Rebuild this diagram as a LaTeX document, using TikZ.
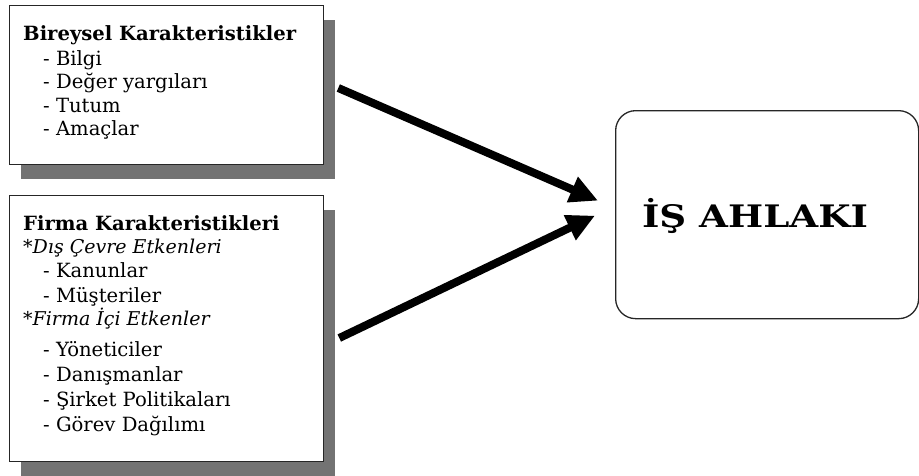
\documentclass[tikz,border=0pt]{standalone}
\usepackage{fontspec}
\setmainfont{DejaVu Serif}
\usetikzlibrary{arrows.meta,calc,shadows}
\begin{document}
\begin{tikzpicture}[x=1pt,y=-1pt,
  card/.style={draw=black!85,line width=1.3pt,fill=white,anchor=north west,inner sep=0pt,
    drop shadow={shadow xshift=11pt,shadow yshift=-14pt,fill=black!55,opacity=1}},
  goalbox/.style={draw=black!85,line width=1.3pt,rounded corners=20pt,anchor=north west,inner sep=0pt},
  head/.style={anchor=base west,inner sep=0pt,font=\fontsize{19.6}{20}\selectfont\bfseries},
  item/.style={anchor=base west,inner sep=0pt,font=\fontsize{19.6}{20}\selectfont},
  sub/.style={anchor=base west,inner sep=0pt,font=\fontsize{19}{20}\selectfont\itshape},
  flow/.style={line width=8pt,-{Triangle[length=28pt,width=26pt]}}]
\useasboundingbox (0,0) rectangle (919,475);

% left boxes with shadows
\node[card,minimum width=314pt,minimum height=159pt] (ind) at (9,5) {};
\node[card,minimum width=314pt,minimum height=266pt] (firm) at (9,195) {};

% goal box
\node[goalbox,minimum width=303pt,minimum height=208pt] (goal) at (615,110) {};
\node[font=\fontsize{31}{31}\selectfont\bfseries,xscale=1.2,transform shape] (goaltxt) at (755,216) {İŞ AHLAKI};

% individual characteristics
\node[head] (t1) at (23,40) {Bireysel Karakteristikler};
\node[item] (i1) at (43,65) {- Bilgi};
\node[item] (i2) at (43,88) {- Değer yargıları};
\node[item] (i3) at (43,112) {- Tutum};
\node[item] (i4) at (43,135) {- Amaçlar};

% firm characteristics
\node[head] (t2) at (23,230) {Firma Karakteristikleri};
\node[sub] (s1) at (23,253) {*Dış Çevre Etkenleri};
\node[item] (f1) at (43,277) {- Kanunlar};
\node[item] (f2) at (43,302) {- Müşteriler};
\node[sub] (s2) at (23,325) {*Firma İçi Etkenler};
\node[item] (f3) at (43,356) {- Yöneticiler};
\node[item] (f4) at (43,381) {- Danışmanlar};
\node[item] (f5) at (43,406) {- Şirket Politikaları};
\node[item] (f6) at (43,431) {- Görev Dağılımı};

% influence arrows
\draw[flow] ($(ind.north east)+(14,83)$) -- ($(goal.west)+(-17,-14)$);
\draw[flow] ($(firm.north east)+(15,143)$) -- ($(goal.west)+(-20,1)$);
\end{tikzpicture}
\end{document}
